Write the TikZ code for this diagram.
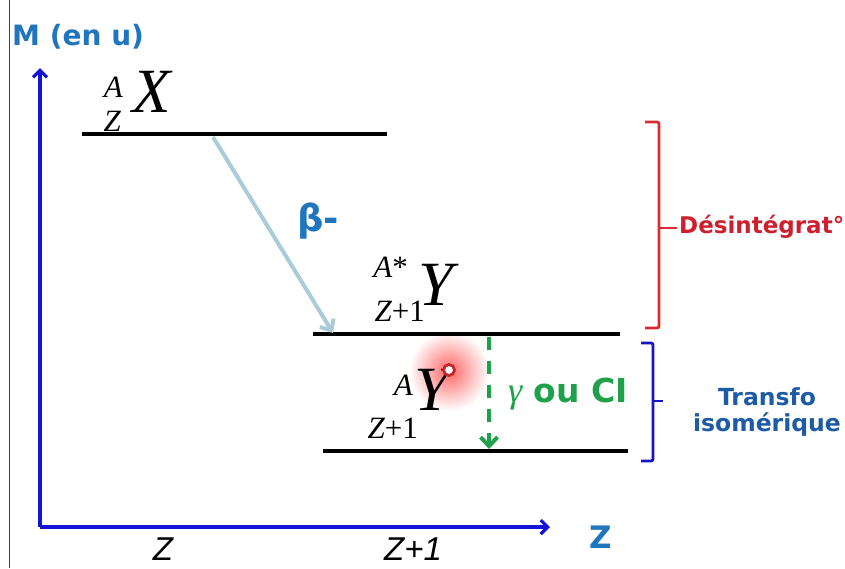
\documentclass[tikz,border=0pt]{standalone}
\usepackage{fontspec}
\setmainfont{DejaVu Sans}
\newfontfamily\nucfont{Liberation Serif}
\newfontfamily\zfont{Liberation Sans}
\usepackage{tikz}
\usetikzlibrary{arrows.meta,positioning,calc}
\definecolor{axisblue}{HTML}{1414D6}
\definecolor{labblue}{HTML}{1F76BE}
\definecolor{betaline}{HTML}{A9CCD8}
\definecolor{desred}{HTML}{CE1F2E}
\definecolor{brkred}{HTML}{DA2A33}
\definecolor{isoblue}{HTML}{1D5BA4}
\definecolor{brkblue}{HTML}{1515C8}
\definecolor{gamgreen}{HTML}{20A04A}
\newcommand{\px}[1]{\fontsize{#1}{#1}\selectfont}
\tikzset{
  level/.style  ={line width=4.6pt,draw=black},
  axis/.style   ={-{Straight Barb[length=7pt,width=14pt]},line width=3.2pt,draw=axisblue},
  decay/.style  ={-{Straight Barb[length=9pt,width=16pt]},line width=4pt,draw=betaline},
  gamma/.style  ={-{Straight Barb[length=9pt,width=17pt]},line width=4pt,draw=gamgreen,
                  dash pattern=on 13pt off 11pt},
  bracket/.style={line width=2.8pt,rounded corners=2pt},
  nucsym/.style ={inner sep=0pt,anchor=base west,font=\nucfont\itshape\px{63}},
  nucscr/.style ={inner sep=0pt,anchor=base east,font=\nucfont\itshape\px{31}},
  lab/.style    ={inner sep=0pt,font=\bfseries\px{23}},
  zlab/.style   ={inner sep=0pt,anchor=base,font=\zfont\itshape\px{33}}
}

\begin{document}
\begin{tikzpicture}[x=1pt,y=-1pt]
  \useasboundingbox (0,0) rectangle (845,568);
  % red pointer glow
  \shade[inner color=red!60,outer color=white] (449,371) circle (40);
  \draw[black!75,line width=0.8pt] (9,0) -- (9,568);

  % axes
  \coordinate (O) at (40,527);
  \coordinate (ytop) at (40,68);
  \coordinate (xend) at (550,527);
  \draw[axis] (O) -- (ytop);
  \draw[axis] (O) -- (xend);
  \node[lab,anchor=base west,text=labblue,font=\bfseries\px{28}] (mlab) at (12,45) {M (en u)};
  \node[lab,anchor=base west,text=labblue,font=\bfseries\px{31}] (zaxis) at (589,548) {Z};
  \node[zlab] (zZ) at (163,560) {Z};
  \node[zlab] (zZ1) at (413,560) {Z+1};

  % energy levels
  \coordinate (lx1) at (82,134);  \coordinate (lx2) at (387,134);
  \coordinate (ly1) at (313,334); \coordinate (ly2) at (620,334);
  \coordinate (lg1) at (323,451); \coordinate (lg2) at (628,451);
  \draw[level] (lx1) -- (lx2);
  \draw[level] (ly1) -- (ly2);
  \draw[level] (lg1) -- (lg2);

  % nuclei
  \node[nucsym] (X) at (132,112) {X};
  \node[nucscr] (XA) at ($(X.base west)+(-9,-15)$) {A};
  \node[nucscr] (XZ) at ($(X.base west)+(-11,19)$) {Z};
  \node[nucsym] (Ys) at (418,305) {Y};
  \node[nucscr] (YsA) at ($(Ys.base west)+(-10,-28)$) {A{\upshape*}};
  \node[nucscr] (YsZ) at ($(Ys.base west)+(7,16)$) {Z{\upshape+1}};
  \node[nucsym] (Yg) at (414,410) {Y};
  \node[nucscr] (YgA) at ($(Yg.base west)+(-1,-15)$) {A};
  \node[nucscr] (YgZ) at ($(Yg.base west)+(4,28)$) {Z{\upshape+1}};
  \draw[brkred!90!black,line width=2.8pt,fill=white] (449,370) circle (5.5);

  % transitions
  \coordinate (b1) at (213,137);
  \coordinate (b2) at (333,333);
  \draw[decay] (b1) -- (b2);
  \node[lab,anchor=base west,text=labblue,font=\bfseries\px{37}] (beta) at (297,231) {β-};
  \coordinate (g1) at (489,337);
  \coordinate (g2) at (489,449);
  \draw[gamma] (g1) -- (g2);
  \node[lab,anchor=base west,text=gamgreen,font=\bfseries\px{33}] (gam) at (508,402)
       {{\nucfont\itshape\mdseries\px{36}γ} ou CI};

  % brackets
  \draw[bracket,brkred] (645,122) -- (659,122) -- (659,328) -- (645,328);
  \draw[brkred,line width=2.8pt] (659,228) -- (677,228);
  \node[lab,anchor=base west,text=desred] (des) at (679,233) {Désintégrat°};
  \draw[bracket,brkblue] (641,343) -- (653,343) -- (653,461) -- (641,461);
  \draw[brkblue,line width=2.8pt] (653,401) -- (663,401);
  \node[lab,text=isoblue,align=center,font=\bfseries\px{23.5}] (iso) at (767,412)
       {Transfo\\[3pt]isomérique};
\end{tikzpicture}
\end{document}
